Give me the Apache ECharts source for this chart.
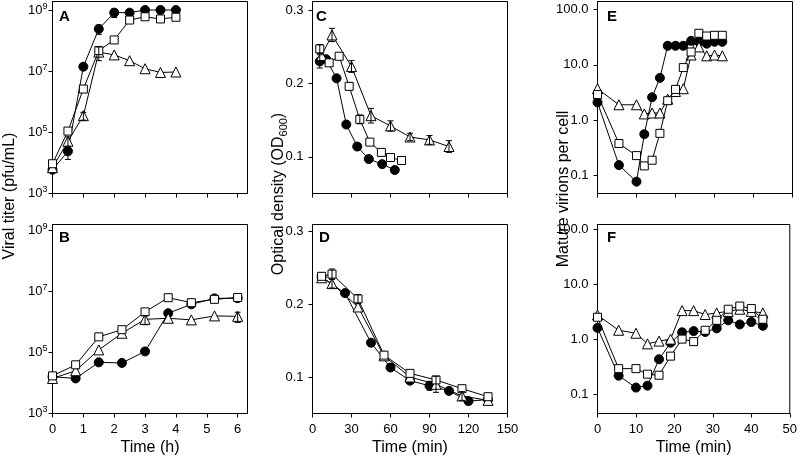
<!DOCTYPE html>
<html><head><meta charset="utf-8">
<script src="https://cdn.jsdelivr.net/npm/echarts@6/dist/echarts.min.js"></script>
<style>html,body{margin:0;padding:0;background:#fff}#c{width:800px;height:458px}</style>
</head><body><div id="c"></div>
<script>
// ---------- DATA ----------
// Panel A: viral titer (pfu/mL) vs time (h)
const A_time = [0, 0.5, 1, 1.5, 2, 2.5, 3, 3.5, 4];
const A_circle = [6e3, 2.4e4, 1.4e7, 2.4e8, 8.2e8, 8.2e8, 1.0e9, 1.0e9, 1.0e9];
const A_square = [9.4e3, 1.1e5, 2.6e6, 4.7e7, 1.05e8, 4.7e8, 6.0e8, 5.1e8, 5.8e8];
const A_triangle = [7e3, 5.1e4, 3.5e5, 4.2e7, 3.4e7, 2.2e7, 1.2e7, 9.1e6, 9.4e6];
const A_circle_err = [0, 1.1e4, 0, 8e7, 2.5e8, 0, 0, 0, 0];
const A_square_err = [0, 0, 0, 0, 0, 0, 0, 0, 0];
const A_triangle_err = [0, 2e4, 1e5, 2e7, 0, 0, 0, 0, 0];

// Panel B
const B_time = [0, 0.75, 1.5, 2.25, 3, 3.75, 4.5, 5.25, 6];
const B_circle = [1.6e4, 1.4e4, 4.7e4, 4.5e4, 1.07e5, 1.9e6, 3.7e6, 5.8e6, 5.9e6];
const B_square = [1.7e4, 3.9e4, 3.2e5, 5.5e5, 2.1e6, 6.1e6, 4.2e6, 5.4e6, 6.2e6];
const B_triangle = [1.4e4, 2.5e4, 1.2e5, 4.2e5, 1.2e6, 1.3e6, 1.15e6, 1.55e6, 1.5e6];
const B_circle_err = [0, 0, 0, 0, 0, 0, 0, 0, 0];
const B_square_err = [0, 0, 0, 0, 0, 0, 0, 0, 0];
const B_triangle_err = [0, 0, 0, 0, 4e5, 0, 0, 0, 5.5e5];

// Panel C: optical density (OD600) vs time (min)
const C_circle_time = [5.6, 10.5, 18.5, 26, 34.4, 43.3, 53.6, 63.3];
const C_circle = [0.230, 0.233, 0.207, 0.144, 0.114, 0.097, 0.090, 0.082];
const C_circle_err = [0.009, 0, 0, 0, 0, 0, 0, 0];
const C_square_time = [5.6, 12.8, 20.5, 28.2, 36.4, 44.1, 53, 60, 68.5];
const C_square = [0.247, 0.228, 0.237, 0.196, 0.151, 0.120, 0.106, 0.099, 0.095];
const C_square_err = [0.006, 0, 0, 0, 0.006, 0, 0, 0, 0];
const C_triangle_time = [7, 15, 30, 45, 60, 75, 90, 105];
const C_triangle = [0.238, 0.266, 0.223, 0.156, 0.142, 0.127, 0.123, 0.114];
const C_triangle_err = [0, 0.009, 0.008, 0.010, 0.007, 0.005, 0.006, 0.008];

// Panel D
const D_circle_time = [7, 25, 45, 60, 75, 90, 105, 120, 135];
const D_circle = [0.237, 0.215, 0.147, 0.113, 0.095, 0.088, 0.081, 0.067, 0.069];
const D_circle_err = [0, 0, 0, 0, 0, 0.006, 0, 0, 0];
const D_square_time = [7, 15, 35, 55, 75, 95, 115, 135];
const D_square = [0.238, 0.241, 0.207, 0.130, 0.105, 0.096, 0.084, 0.073];
const D_square_err = [0, 0.007, 0.006, 0, 0, 0, 0, 0];
const D_triangle_time = [7, 15, 35, 55, 75, 95, 115, 135];
const D_triangle = [0.236, 0.228, 0.196, 0.129, 0.100, 0.090, 0.074, 0.068];
const D_triangle_err = [0, 0.006, 0, 0, 0, 0.011, 0.006, 0];

// Panel E: mature virions per cell vs time (min)
const E_time = [0, 5.5, 10, 12, 14, 16, 18, 20, 22, 24, 26, 28, 30, 32];
const E_circle = [2.1, 0.155, 0.078, 0.56, 2.6, 5.8, 22, 22, 22, 27, 26, 24, 26, 26];
const E_square = [2.9, 0.38, 0.23, 0.15, 0.19, 0.58, 2.25, 3.6, 8.9, 17, 37, 33, 34, 34];
const E_triangle = [3.7, 1.9, 1.9, 1.3, 1.35, 1.35, 2.4, 3.3, 3.7, 15, 21, 14.5, 15, 14.5];

// Panel F
const F_time = [0, 5.5, 10, 13, 16, 19, 22, 25, 28, 31, 34, 37, 40, 43];
const F_circle = [1.6, 0.216, 0.131, 0.142, 0.43, 0.86, 1.33, 1.4, 1.35, 1.57, 2.2, 1.85, 2.05, 1.75];
const F_square = [2.5, 0.29, 0.29, 0.23, 0.22, 0.49, 1.0, 0.90, 1.45, 2.2, 3.5, 4.0, 3.6, 2.3];
const F_triangle = [2.75, 1.45, 1.28, 0.82, 0.92, 1.0, 3.3, 3.3, 2.8, 3.0, 3.2, 3.5, 3.2, 3.0];

// Tick values
const hourTicks = [0, 1, 2, 3, 4, 5, 6];
const minTicks150 = [0, 30, 60, 90, 120, 150];
const minTicks50 = [0, 10, 20, 30, 40, 50];
const titerTicks = [1e3, 1e5, 1e7, 1e9];
const odTicks = [0.1, 0.2, 0.3];
const virionTicks = [0.1, 1, 10, 100];

// ---------- LAYOUT / BUILD ----------
const FONT = '"Liberation Sans", Arial, Helvetica, sans-serif';
const W = 195;
const panels = [
  {letter:'A', lp:[59, 9], left:52.5, top:1.5, height:192, xr:[0, 6.32], xt:hourTicks, xl:false, xn:'',
   log:true, yr:[1e3, 1.897e9], yt:titerTicks, fmt:'pow', ym:5,
   s:[[A_time, A_circle, A_circle_err, 'c'], [A_time, A_triangle, A_triangle_err, 't'], [A_time, A_square, A_square_err, 's']]},
  {letter:'B', lp:[59, 230], left:52.5, top:224.5, height:189, xr:[0, 6.32], xt:hourTicks, xl:true, xn:'Time (h)',
   log:true, yr:[1e3, 1.51e9], yt:titerTicks, fmt:'pow', ym:5,
   s:[[B_time, B_circle, B_circle_err, 'c'], [B_time, B_triangle, B_triangle_err, 't'], [B_time, B_square, B_square_err, 's']]},
  {letter:'C', lp:[316, 9], left:312.5, top:1.5, height:192, xr:[0, 150], xt:minTicks150, xl:false, xn:'',
   log:false, yr:[0.05, 0.3116], yt:odTicks, fmt:'f1', ym:9,
   s:[[C_circle_time, C_circle, C_circle_err, 'c'], [C_triangle_time, C_triangle, C_triangle_err, 't'], [C_square_time, C_square, C_square_err, 's']]},
  {letter:'D', lp:[319, 230], left:312.5, top:224.5, height:189, xr:[0, 150], xt:minTicks150, xl:true, xn:'Time (min)',
   log:false, yr:[0.05, 0.309], yt:odTicks, fmt:'f1', ym:9,
   s:[[D_circle_time, D_circle, D_circle_err, 'c'], [D_triangle_time, D_triangle, D_triangle_err, 't'], [D_square_time, D_square, D_square_err, 's']]},
  {letter:'E', lp:[607, 9], left:597.5, top:1.5, height:192, xr:[0, 50], xt:minTicks50, xl:false, xn:'',
   log:true, yr:[0.0477, 138.4], yt:virionTicks, fmt:'exp1', ym:9,
   s:[[E_time, E_circle, null, 'c'], [E_time, E_triangle, null, 't'], [E_time, E_square, null, 's']]},
  {letter:'F', lp:[607, 230], left:597.5, top:224.5, height:189, xr:[0, 50], xt:minTicks50, xl:true, xn:'Time (min)',
   log:true, yr:[0.0442, 122.2], yt:virionTicks, fmt:'exp1', ym:9,
   s:[[F_time, F_circle, null, 'c'], [F_time, F_triangle, null, 't'], [F_time, F_square, null, 's']]}
];

const SYM = {
  c: {symbol:'circle', size:9, fill:'#000'},
  s: {symbol:'rect', size:8, fill:'#fff'},
  t: {symbol:'triangle', size:10, fill:'#fff'}
};

const grids = [], xAxes = [], yAxes = [], series = [], graphics = [];
const axisLine = {show:true, onZero:false, lineStyle:{color:'#000', width:1}};

panels.forEach((p, i) => {
  const tf = v => p.log ? Math.log10(v) : v;
  grids.push({left:p.left, top:p.top, width:W, height:p.height, show:true, borderColor:'#000', borderWidth:1, backgroundColor:'#fff'});
  xAxes.push({
    gridIndex:i, type:'value', min:p.xr[0], max:p.xr[1],
    axisLine, splitLine:{show:false},
    axisTick:{show:true, inside:false, length:4, customValues:p.xt, lineStyle:{color:'#000', width:1}},
    axisLabel:{show:p.xl, customValues:p.xt, margin:9, color:'#000', fontSize:13, fontFamily:FONT},
    name:p.xn, nameLocation:'middle', nameGap:26,
    nameTextStyle:{color:'#000', fontSize:16, fontFamily:FONT}
  });
  const yT = p.yt.map(tf);
  let formatter;
  if (p.fmt === 'pow') formatter = v => '{b|10}{s|' + Math.round(v) + '}';
  else if (p.fmt === 'exp1') formatter = v => Math.pow(10, v).toFixed(1);
  else formatter = v => v.toFixed(1);
  yAxes.push({
    gridIndex:i, type:'value', min:tf(p.yr[0]), max:tf(p.yr[1]),
    axisLine, splitLine:{show:false},
    axisTick:{show:true, inside:false, length:4, customValues:yT, lineStyle:{color:'#000', width:1}},
    axisLabel:{show:true, customValues:yT, margin:p.ym, color:'#000', fontSize:13, fontFamily:FONT, formatter,
      rich:{b:{fontSize:13, fontFamily:FONT, color:'#000', lineHeight:16}, s:{fontSize:9, fontFamily:FONT, color:'#000', verticalAlign:'top', lineHeight:10}}}
  });
  p.s.forEach(([t, v, e, k], j) => {
    const sy = SYM[k];
    series.push({
      type:'line', xAxisIndex:i, yAxisIndex:i, z:2 + j, clip:false,
      data:t.map((x, n) => [x, tf(v[n])]),
      symbol:sy.symbol, symbolSize:sy.size, showSymbol:true,
      lineStyle:{color:'#000', width:1},
      itemStyle:{color:sy.fill, borderColor:'#000', borderWidth:1},
      emphasis:{disabled:true}, silent:true
    });
  });
  // error bars (drawn over markers)
  p.s.forEach(([t, v, e]) => {
    if (!e) return;
    const d = [];
    t.forEach((x, k) => { if (e[k] > 0) d.push([x, tf(v[k] - e[k]), tf(v[k] + e[k])]); });
    if (!d.length) return;
    series.push({
      type:'custom', xAxisIndex:i, yAxisIndex:i, z:8, silent:true, data:d, clip:false,
      renderItem:(params, api) => {
        const lo = api.coord([api.value(0), api.value(1)]);
        const hi = api.coord([api.value(0), api.value(2)]);
        const w = 3, st = {stroke:'#000', lineWidth:1};
        return {type:'group', children:[
          {type:'line', shape:{x1:lo[0], y1:lo[1], x2:hi[0], y2:hi[1]}, style:st},
          {type:'line', shape:{x1:lo[0]-w, y1:lo[1], x2:lo[0]+w, y2:lo[1]}, style:st},
          {type:'line', shape:{x1:hi[0]-w, y1:hi[1], x2:hi[0]+w, y2:hi[1]}, style:st}
        ]};
      }
    });
  });
  graphics.push({type:'text', x:p.lp[0], y:p.lp[1], z:10,
    style:{text:p.letter, font:'bold 15px ' + FONT, fill:'#000', textAlign:'left', textVerticalAlign:'top', align:'left', verticalAlign:'top'}});
});

// y-axis titles
const titleStyle = (txt, rich) => ({text:txt, fill:'#000', font:'16px ' + FONT, textAlign:'center', textVerticalAlign:'middle', align:'center', verticalAlign:'middle', rich});
graphics.push({type:'text', x:10, y:196, rotation:Math.PI/2, z:10, style:titleStyle('Viral titer (pfu/mL)')});
graphics.push({type:'text', x:279, y:194, rotation:Math.PI/2, z:10,
  style:titleStyle('{n|Optical density (OD}{sub|600}{n|)}', {
    n:{fontSize:16, fontFamily:FONT, color:'#000', lineHeight:20},
    sub:{fontSize:11, fontFamily:FONT, color:'#000', verticalAlign:'bottom', lineHeight:11}})});
graphics.push({type:'text', x:564, y:189, rotation:Math.PI/2, z:10, style:titleStyle('Mature virions per cell')});

const chart = echarts.init(document.getElementById('c'), null, {renderer:'canvas'});
chart.setOption({
  animation:false, backgroundColor:'#fff',
  grid:grids, xAxis:xAxes, yAxis:yAxes, series, graphic:graphics,
  tooltip:{show:false}
});
</script></body></html>
